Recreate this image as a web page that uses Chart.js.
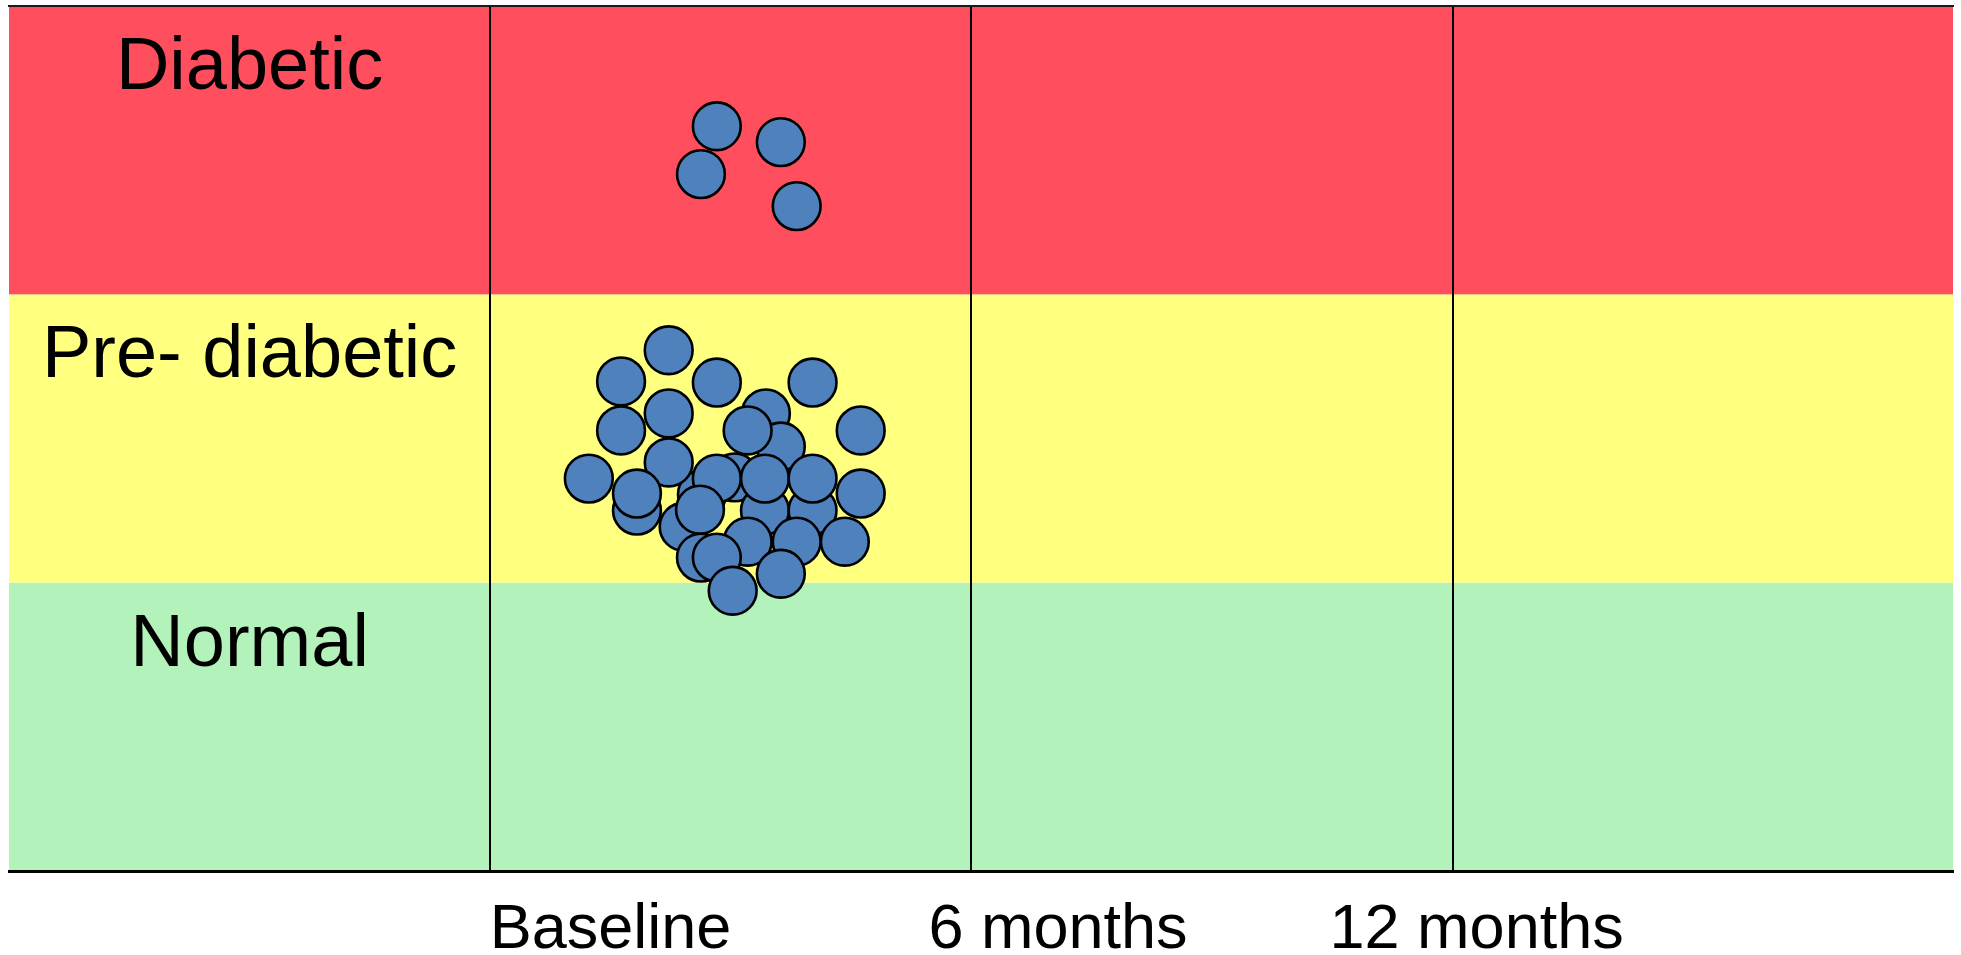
<!DOCTYPE html>
<html>
<head>
<meta charset="utf-8">
<title>Glycaemic status over follow-up</title>
<script src="https://cdn.jsdelivr.net/npm/chart.js@4/dist/chart.umd.min.js"></script>
<style>
  html, body { margin: 0; padding: 0; background: #ffffff; }
  canvas { display: block; }
</style>
</head>
<body>
<canvas id="chart" width="1961" height="955"></canvas>
<script>
// Glycaemic categories, bottom to top, and the band edges on the y scale
const bandNames = ['Normal', 'Pre- diabetic', 'Diabetic'];
const bandEdges = [0, 1, 2, 3];

// Follow-up visits shown under the axis
const visitLabels = ['Baseline', '6 months', '12 months'];

// Participants at baseline (x: position within the visit column, y: glycaemic scale)
const diabeticX = [1.471, 1.604, 1.438, 1.637];
const diabeticY = [2.583, 2.528, 2.417, 2.306];

const preDiabeticX = [
  1.573, 1.604, 1.508, 1.305, 1.440, 1.402, 1.571, 1.670, 1.438,
  1.371, 1.272, 1.471, 1.670, 1.371, 1.272, 1.535, 1.770, 1.371,
  1.205, 1.305, 1.471, 1.571, 1.670, 1.770, 1.436, 1.535, 1.637,
  1.737, 1.471, 1.604, 1.504
];
const preDiabeticY = [
  1.587, 1.472, 1.365, 1.250, 1.306, 1.194, 1.250, 1.250, 1.087,
  1.806, 1.698, 1.694, 1.694, 1.587, 1.528, 1.528, 1.528, 1.417,
  1.361, 1.309, 1.361, 1.361, 1.361, 1.309, 1.253, 1.142, 1.142,
  1.142, 1.087, 1.031, 0.972
];

const bandColors = ['rgb(179,242,187)', 'rgb(255,255,128)', 'rgb(255,79,95)'];
const pointFill = 'rgb(79,129,189)';
const FONT = "'Liberation Sans', Arial, Helvetica, sans-serif";

function toPoints(xs, ys) {
  return xs.map((x, i) => ({ x: x, y: ys[i] }));
}

// Coloured category bands with their names in the first column
const bandPlugin = {
  id: 'bands',
  beforeDraw(chart) {
    const { ctx, chartArea, scales } = chart;
    const ys = scales.y;
    const xs = scales.x;
    ctx.save();
    for (let i = 0; i < bandNames.length; i++) {
      const top = ys.getPixelForValue(bandEdges[i + 1]);
      const bottom = ys.getPixelForValue(bandEdges[i]);
      ctx.fillStyle = bandColors[i];
      ctx.fillRect(chartArea.left, top, chartArea.right - chartArea.left, bottom - top);
    }
    ctx.fillStyle = '#000000';
    ctx.font = '74px ' + FONT;
    ctx.textAlign = 'center';
    ctx.textBaseline = 'alphabetic';
    const labelX = xs.getPixelForValue(0.5);
    for (let i = 0; i < bandNames.length; i++) {
      const top = ys.getPixelForValue(bandEdges[i + 1]);
      ctx.fillText(bandNames[i], labelX, top + 83);
    }
    ctx.restore();
  }
};

const xMin = 0, xMax = 4.04;

new Chart(document.getElementById('chart'), {
  type: 'scatter',
  data: {
    datasets: [
      {
        label: 'Diabetic',
        data: toPoints(diabeticX, diabeticY),
        backgroundColor: pointFill,
        borderColor: '#000000',
        borderWidth: 2.6,
        pointRadius: 23.9,
        pointHoverRadius: 23.9
      },
      {
        label: 'Pre- diabetic',
        data: toPoints(preDiabeticX, preDiabeticY),
        backgroundColor: pointFill,
        borderColor: '#000000',
        borderWidth: 2.6,
        pointRadius: 23.9,
        pointHoverRadius: 23.9
      }
    ]
  },
  options: {
    responsive: false,
    animation: false,
    events: [],
    layout: { autoPadding: false, padding: { left: 9, right: 8, top: 6, bottom: 0 } },
    plugins: {
      legend: { display: false },
      tooltip: { enabled: false },
      title: { display: false }
    },
    scales: {
      // visit labels and the bottom axis line
      x: {
        type: 'linear',
        position: 'bottom',
        min: xMin,
        max: xMax,
        afterBuildTicks(scale) {
          scale.ticks = [1.25, 2.18, 3.05].map(v => ({ value: v }));
        },
        afterFit(scale) { scale.height = 84; },
        grid: { display: false, drawTicks: false },
        border: { display: true, color: '#000000', width: 3 },
        ticks: {
          autoSkip: false,
          maxRotation: 0,
          padding: 22,
          color: '#000000',
          font: { size: 63, family: FONT },
          callback: (value, index) => visitLabels[index]
        }
      },
      // column dividers between visits
      xCols: {
        type: 'linear',
        position: 'bottom',
        min: xMin,
        max: xMax,
        afterBuildTicks(scale) {
          scale.ticks = [1, 2, 3].map(v => ({ value: v }));
        },
        afterFit(scale) { scale.height = 0; },
        grid: { display: true, drawTicks: false, color: '#000000', lineWidth: 2 },
        border: { display: false },
        ticks: { display: false }
      },
      // top frame line
      xTop: {
        type: 'linear',
        position: 'top',
        min: xMin,
        max: xMax,
        afterFit(scale) { scale.height = 0; },
        grid: { display: false, drawTicks: false },
        border: { display: true, color: '#1a1a1a', width: 2 },
        ticks: { display: false }
      },
      y: {
        type: 'linear',
        min: bandEdges[0],
        max: bandEdges[bandEdges.length - 1],
        display: false
      }
    }
  },
  plugins: [bandPlugin]
});
</script>
</body>
</html>
